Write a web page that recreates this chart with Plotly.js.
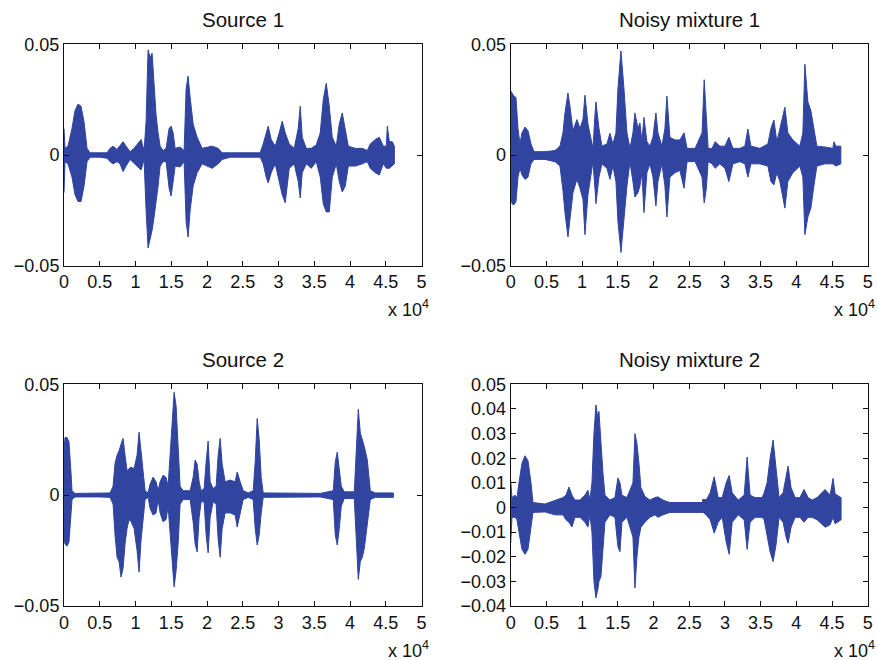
<!DOCTYPE html>
<html><head><meta charset="utf-8">
<script src="https://cdn.plot.ly/plotly-3.0.1.min.js"></script>
<style>html,body{margin:0;padding:0;background:#fff}#chart{width:878px;height:660px}</style>
</head><body><div id="chart"></div>
<script>
// ---- tick labels ----
const xTickVals = [0,5000,10000,15000,20000,25000,30000,35000,40000,45000,50000];
const xTickText = ["0","0.5","1","1.5","2","2.5","3","3.5","4","4.5","5"];
const yTickVals = [-0.05,0,0.05];
const yTickText = ["\u22120.05","0","0.05"];
const y4TickVals = [-0.04,-0.03,-0.02,-0.01,0,0.01,0.02,0.03,0.04,0.05];
const y4TickText = ["\u22120.04","\u22120.03","\u22120.02","\u22120.01","0","0.01","0.02","0.03","0.04","0.05"];
const titles = ["Source 1","Noisy mixture 1","Source 2","Noisy mixture 2"];

// ---- Source 1 envelope (sample index, upper, lower) ----
const s1X = [0,140,560,1120,1540,1960,2380,2800,3220,3640,5040,6020,6440,6860,7420,7840,8260,8680,9240,9800,10780,11200,11480,11760,12040,12320,12600,12880,13160,13440,13860,14280,14700,14980,15260,15540,16240,16800,17080,17360,17640,18060,18620,19320,20020,20720,21560,22120,23240,25340,27440,27860,28280,28560,28980,29540,30100,30520,30940,31500,32200,32760,33040,33320,33880,34580,35280,35840,36260,36680,37100,37520,38080,38500,38920,39340,39760,40740,41720,42420,42840,43540,44100,44660,45080,45220,45500,45920,46200];
const s1Hi = [0.012,0.003,0.004,0.012,0.020,0.023,0.022,0.015,0.003,0.001,0.001,0.001,0.003,0.004,0.0025,0.004,0.006,0.004,0.0015,0.003,0.007,0.002,0.015,0.0475,0.044,0.046,0.032,0.018,0.010,0.004,0.002,0.003,0.012,0.013,0.010,0.003,0.0036,0.002,0.030,0.0356,0.026,0.014,0.008,0.003,0.0035,0.004,0.003,0.001,0.001,0.001,0.001,0.005,0.010,0.013,0.007,0.004,0.010,0.0153,0.010,0.005,0.003,0.012,0.022,0.008,0.003,0.003,0.0045,0.010,0.025,0.0324,0.022,0.008,0.004,0.014,0.019,0.012,0.004,0.003,0.003,0.002,0.005,0.007,0.008,0.004,0.004,0.013,0.006,0.006,0.004];
const s1Lo = [-0.017,-0.003,-0.004,-0.010,-0.018,-0.021,-0.021,-0.014,-0.003,-0.001,-0.001,-0.0015,-0.003,-0.004,-0.003,-0.004,-0.0075,-0.005,-0.002,-0.004,-0.0068,-0.002,-0.025,-0.042,-0.038,-0.034,-0.028,-0.022,-0.014,-0.005,-0.003,-0.003,-0.015,-0.0185,-0.012,-0.005,-0.0054,-0.003,-0.030,-0.037,-0.025,-0.014,-0.008,-0.004,-0.005,-0.006,-0.004,-0.002,-0.001,-0.001,-0.001,-0.004,-0.010,-0.0126,-0.008,-0.004,-0.012,-0.018,-0.0216,-0.006,-0.004,-0.012,-0.0194,-0.008,-0.004,-0.006,-0.003,-0.010,-0.022,-0.0257,-0.0257,-0.010,-0.004,-0.012,-0.0167,-0.014,-0.005,-0.005,-0.004,-0.003,-0.006,-0.008,-0.009,-0.004,-0.006,-0.006,-0.006,-0.005,-0.004];

// ---- Noisy mixture 1 envelope ----
const m1X = [0,180,460,740,1020,1300,1580,2000,2420,2840,3260,4800,6200,6900,7320,7600,8020,8300,8720,9280,9700,10120,10400,10820,11100,11520,11800,11940,12360,12780,13480,13900,14320,14740,15020,15440,15860,16280,16700,17120,17400,17820,18100,18380,18660,19080,19500,19920,20340,20620,21180,21600,21880,22300,23000,23700,24280,24700,25830,26800,27100,27400,27650,28200,28640,29300,30000,30560,31120,32100,32800,33220,33640,34900,36020,36450,36860,37280,37700,37980,38400,38820,39520,40500,40920,41200,41620,42040,42460,42880,44000,45120,45260,45540,46240];
const m1Hi = [0.029,0.028,0.0265,0.026,0.012,0.005,0.010,0.0126,0.011,0.005,0.0015,0.0015,0.002,0.004,0.010,0.019,0.028,0.022,0.011,0.016,0.012,0.016,0.027,0.014,0.010,0.003,0.018,0.024,0.012,0.004,0.005,0.0098,0.005,0.010,0.030,0.047,0.030,0.010,0.003,0.010,0.019,0.012,0.0144,0.006,0.017,0.006,0.004,0.008,0.019,0.010,0.004,0.012,0.0266,0.008,0.0068,0.0068,0.010,0.003,0.003,0.010,0.034,0.015,0.003,0.003,0.006,0.004,0.004,0.008,0.003,0.003,0.004,0.0117,0.004,0.003,0.005,0.012,0.0158,0.006,0.012,0.016,0.0216,0.010,0.0068,0.004,0.010,0.041,0.024,0.020,0.0126,0.004,0.0036,0.003,0.006,0.004,0.004];
const m1Lo = [-0.018,-0.022,-0.0225,-0.021,-0.010,-0.006,-0.009,-0.011,-0.010,-0.004,-0.002,-0.002,-0.003,-0.005,-0.016,-0.026,-0.037,-0.029,-0.017,-0.011,-0.015,-0.020,-0.036,-0.018,-0.012,-0.003,-0.015,-0.022,-0.010,-0.004,-0.006,-0.011,-0.005,-0.012,-0.030,-0.044,-0.030,-0.014,-0.003,-0.012,-0.019,-0.017,-0.014,-0.008,-0.026,-0.008,-0.004,-0.010,-0.023,-0.012,-0.004,-0.014,-0.028,-0.010,-0.008,-0.007,-0.015,-0.003,-0.003,-0.010,-0.0217,-0.015,-0.003,-0.004,-0.006,-0.004,-0.006,-0.012,-0.004,-0.003,-0.004,-0.010,-0.004,-0.004,-0.005,-0.012,-0.0135,-0.008,-0.012,-0.016,-0.024,-0.012,-0.008,-0.005,-0.010,-0.036,-0.028,-0.024,-0.014,-0.005,-0.004,-0.004,-0.004,-0.005,-0.004];

// ---- Source 2 envelope ----
const s2X = [0,140,420,700,980,1120,1540,5040,6440,6860,7140,7420,7700,7980,8260,8540,8820,9100,9380,9800,10220,10500,10780,11060,11340,11760,12040,12460,12880,13160,13440,13860,14280,14560,14840,15120,15400,15680,15960,16240,16660,17640,18060,18340,18620,18900,19180,19600,19880,20160,20440,20860,21280,21560,21840,22120,22540,23240,23940,24220,24640,25060,25760,26460,26740,27020,27300,27580,27860,31640,35840,37660,37940,38220,38500,38780,39200,40600,40880,41160,41440,41720,42000,42420,42840,43540,46060];
const s2Hi = [0.020,0.026,0.026,0.024,0.010,0.002,0.0008,0.0008,0.001,0.004,0.0144,0.018,0.020,0.023,0.0256,0.018,0.011,0.012,0.0126,0.012,0.018,0.0284,0.020,0.010,0.002,0.001,0.005,0.0081,0.006,0.002,0.006,0.009,0.008,0.004,0.020,0.033,0.0464,0.040,0.022,0.004,0.002,0.002,0.008,0.0158,0.014,0.006,0.002,0.003,0.015,0.0244,0.006,0.003,0.004,0.018,0.0256,0.014,0.006,0.0068,0.006,0.0104,0.006,0.002,0.001,0.002,0.015,0.0346,0.025,0.008,0.001,0.0008,0.0008,0.002,0.015,0.0194,0.012,0.004,0.0015,0.0015,0.020,0.0387,0.028,0.0248,0.022,0.0158,0.002,0.001,0.001];
const s2Lo = [-0.020,-0.022,-0.023,-0.021,-0.010,-0.002,-0.0008,-0.0008,-0.001,-0.004,-0.018,-0.028,-0.030,-0.037,-0.033,-0.022,-0.015,-0.011,-0.012,-0.015,-0.025,-0.0347,-0.020,-0.011,-0.002,-0.001,-0.006,-0.009,-0.008,-0.002,-0.008,-0.012,-0.011,-0.005,-0.020,-0.030,-0.0414,-0.034,-0.022,-0.004,-0.002,-0.002,-0.012,-0.022,-0.0256,-0.010,-0.003,-0.003,-0.018,-0.026,-0.010,-0.003,-0.004,-0.020,-0.028,-0.015,-0.008,-0.008,-0.009,-0.0144,-0.008,-0.002,-0.001,-0.002,-0.015,-0.0225,-0.018,-0.008,-0.001,-0.0008,-0.0008,-0.002,-0.018,-0.0225,-0.015,-0.005,-0.0015,-0.0015,-0.020,-0.038,-0.030,-0.028,-0.024,-0.012,-0.002,-0.001,-0.001];

// ---- Noisy mixture 2 envelope ----
const m2X = [0,180,600,880,1160,1580,2000,2420,2840,3120,4800,6200,7320,7740,8160,8580,9000,9700,10400,10820,11100,11380,11660,11940,12220,12360,12640,12920,13200,13900,14600,15020,15300,15580,16280,17120,17400,17680,17960,18240,18800,19500,20200,20620,21320,22300,23700,25100,26800,26940,27380,27940,28500,29060,29620,30180,30600,31020,31860,32700,33110,33530,34240,35220,35500,35910,36330,36750,37170,37590,38150,38570,38850,39270,39830,40500,41090,41650,42210,42910,44030,44730,45150,45430,46270];
const m2Hi = [0.011,0.004,0.005,0.004,0.010,0.018,0.021,0.019,0.010,0.002,0.0014,0.003,0.004,0.005,0.0083,0.005,0.003,0.003,0.005,0.007,0.003,0.010,0.030,0.0416,0.036,0.039,0.025,0.014,0.005,0.003,0.004,0.012,0.010,0.005,0.004,0.010,0.030,0.026,0.018,0.008,0.0045,0.003,0.004,0.0043,0.003,0.002,0.002,0.002,0.002,0.0034,0.003,0.006,0.0124,0.004,0.004,0.010,0.013,0.006,0.003,0.005,0.0205,0.005,0.004,0.004,0.006,0.010,0.020,0.0274,0.015,0.004,0.006,0.012,0.0168,0.008,0.004,0.004,0.0073,0.004,0.003,0.004,0.0073,0.005,0.0118,0.0055,0.004];
const m2Lo = [-0.0145,-0.004,-0.004,-0.005,-0.010,-0.017,-0.019,-0.017,-0.008,-0.002,-0.0018,-0.003,-0.003,-0.005,-0.006,-0.0079,-0.004,-0.004,-0.006,-0.008,-0.003,-0.010,-0.030,-0.0367,-0.033,-0.030,-0.028,-0.018,-0.006,-0.003,-0.004,-0.016,-0.018,-0.006,-0.004,-0.012,-0.0327,-0.020,-0.012,-0.008,-0.006,-0.004,-0.003,-0.004,-0.003,-0.002,-0.0018,-0.0018,-0.002,-0.002,-0.003,-0.005,-0.0104,-0.006,-0.004,-0.014,-0.019,-0.006,-0.003,-0.005,-0.017,-0.006,-0.004,-0.004,-0.005,-0.012,-0.018,-0.022,-0.015,-0.004,-0.006,-0.012,-0.0145,-0.008,-0.004,-0.004,-0.006,-0.004,-0.004,-0.005,-0.008,-0.007,-0.004,-0.0066,-0.005];

const WAVE = '#3044a0';
const FONT = 'Arial, "Liberation Sans", Helvetica, sans-serif';

function band(xs, hi, lo, xa, ya) {
  return {
    type: 'scatter', mode: 'lines', xaxis: xa, yaxis: ya,
    x: xs.concat(xs.slice().reverse()),
    y: hi.concat(lo.slice().reverse()),
    fill: 'toself', fillcolor: WAVE,
    line: {color: WAVE, width: 1},
    hoverinfo: 'skip'
  };
}

const data = [
  band(s1X, s1Hi, s1Lo, 'x', 'y'),
  band(m1X, m1Hi, m1Lo, 'x2', 'y2'),
  band(s2X, s2Hi, s2Lo, 'x3', 'y3'),
  band(m2X, m2Hi, m2Lo, 'x4', 'y4')
];

const W = 878, H = 660;
const px = v => v / W, py = v => 1 - v / H;
const colL = [64, 421.5], colR = [510.7, 867.7];
const rowT = [44.3, 265.7], rowB = [384.3, 606];

function xax(dom, anchor) {
  return {
    domain: [px(dom[0]), px(dom[1])], anchor: anchor,
    range: [0, 50000], tickvals: xTickVals, ticktext: xTickText,
    ticks: 'inside', ticklen: 5, tickcolor: '#111', tickwidth: 1,
    showline: true, linecolor: '#111', linewidth: 1, mirror: 'ticks',
    showgrid: false, zeroline: false,
    tickfont: {family: FONT, size: 18, color: '#111'}
  };
}
function yax(dom, anchor, vals, text, range) {
  return {
    domain: [py(dom[1]), py(dom[0])], anchor: anchor,
    range: range, tickvals: vals, ticktext: text,
    ticks: 'inside', ticklen: 5, tickcolor: '#111', tickwidth: 1,
    showline: true, linecolor: '#111', linewidth: 1, mirror: 'ticks',
    showgrid: false, zeroline: false,
    tickfont: {family: FONT, size: 18, color: '#111'}
  };
}

const ann = [];
const panels = [[colL, rowT], [colR, rowT], [colL, rowB], [colR, rowB]];
panels.forEach((p, i) => {
  const cx = (p[0][0] + p[0][1]) / 2;
  ann.push({xref: 'paper', yref: 'paper', x: px(cx), y: py(p[1][0] - 25),
    xanchor: 'center', yanchor: 'middle', showarrow: false,
    text: titles[i], font: {family: FONT, size: 20.5, color: '#111'}});
  ann.push({xref: 'paper', yref: 'paper', x: px(p[0][1] + 9), y: py(p[1][1] + 43),
    xanchor: 'right', yanchor: 'middle', showarrow: false,
    text: 'x 10<sup>4</sup>', font: {family: FONT, size: 18, color: '#111'}});
});

const layout = {
  width: W, height: H, margin: {l: 0, r: 0, t: 0, b: 0},
  paper_bgcolor: '#fff', plot_bgcolor: '#fff', showlegend: false,
  xaxis: xax(colL, 'y'), yaxis: yax(rowT, 'x', yTickVals, yTickText, [-0.05, 0.05]),
  xaxis2: xax(colR, 'y2'), yaxis2: yax(rowT, 'x2', yTickVals, yTickText, [-0.05, 0.05]),
  xaxis3: xax(colL, 'y3'), yaxis3: yax(rowB, 'x3', yTickVals, yTickText, [-0.05, 0.05]),
  xaxis4: xax(colR, 'y4'), yaxis4: yax(rowB, 'x4', y4TickVals, y4TickText, [-0.04, 0.05]),
  annotations: ann
};

Plotly.newPlot('chart', data, layout, {displayModeBar: false, staticPlot: true});
</script></body></html>
